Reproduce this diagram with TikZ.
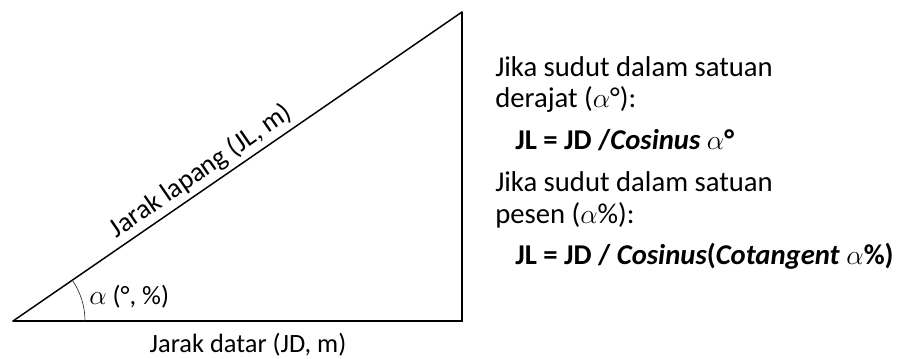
\documentclass[tikz,border=0pt]{standalone}
\usepackage{fontspec}
\setmainfont{Carlito}
\usetikzlibrary{positioning,calc}

\begin{document}
\begin{tikzpicture}[
  x=0.75pt, y=-0.75pt,
  every node/.style={font=\fontsize{19.8}{24}\selectfont, inner sep=0pt},
  side/.style ={draw, line width=1.4pt, line cap=round},
  hyp/.style  ={draw, line width=1.1pt},
  ang/.style  ={draw, line width=0.5pt, black!80},
  txt/.style  ={anchor=west, align=left, font=\fontsize{21.5}{26}\selectfont},
  frm/.style  ={anchor=west, font=\fontsize{21.5}{26}\selectfont\bfseries}
]
\useasboundingbox (0,0) rectangle (909,358);

% triangle corners
\coordinate (A) at (13,321);
\coordinate (B) at (462,321);
\coordinate (C) at (462,12);

\draw[side] (A) -- (B) -- (C);
\draw[hyp]  (A) -- node[pos=0.44, sloped, above=3pt, font=\fontsize{20.5}{24}\selectfont] (jl) {Jarak lapang (JL, m)} (C);

% angle
\draw[ang] ($(A)+(72,0)$) arc[start angle=0, end angle=-34.5, radius=72];
\node[anchor=west] (alpha) at (89,297) {$\alpha$ (°, \%)};

\node (jd) at (248,345) {Jarak datar (JD, m)};

% text on the right
\node[txt] (t1) at (495,67)  {Jika sudut dalam satuan};
\node[txt] (t2) at (495,99)  {derajat ($\alpha$°):};
\node[frm] (f1) at (515,140) {JL = JD /\textit{Cosinus} $\alpha$°};
\node[txt] (t3) at (495,182) {Jika sudut dalam satuan};
\node[txt] (t4) at (495,215) {pesen ($\alpha$\%):};
\node[frm] (f2) at (515,256) {JL = JD / \textit{Cosinus}(\textit{Cotangent} $\alpha$\%)};

\end{tikzpicture}
\end{document}
